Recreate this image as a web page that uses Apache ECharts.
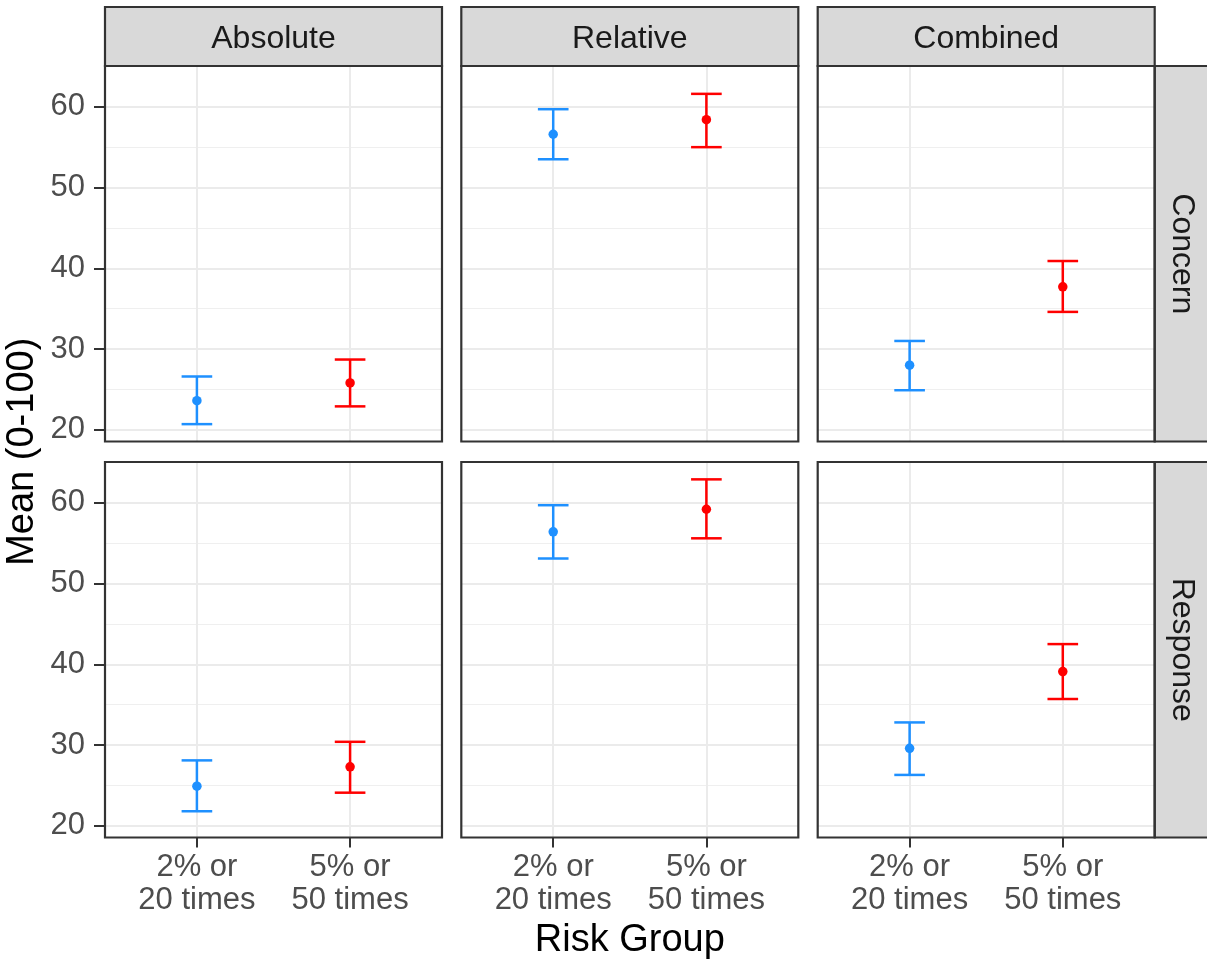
<!DOCTYPE html>
<html>
<head>
<meta charset="utf-8">
<script src="https://cdn.jsdelivr.net/npm/echarts@6/dist/echarts.min.js"></script>
<style>
html,body{margin:0;padding:0;background:#fff;}
#chart{width:1207px;height:966px;}
</style>
</head>
<body>
<div id="chart"></div>
<script>
// ---------- data ----------
const riskGroups = ['2% or\n20 times', '5% or\n50 times'];
const formats = ['Absolute', 'Relative', 'Combined'];
const measures = ['Concern', 'Response'];
const groupColors = ['#1E90FF', '#FF0000'];
const yTicks = [20, 30, 40, 50, 60];
const yMinorTicks = [25, 35, 45, 55];
const xTicks = [1, 2];

// per format: [low-risk group, high-risk group]
const concernMean  = [[23.6, 25.8], [56.6, 58.4], [28.0, 37.7]];
const concernLower = [[20.7, 22.9], [53.5, 55.0], [24.9, 34.6]];
const concernUpper = [[26.6, 28.7], [59.7, 61.6], [31.0, 40.9]];

const responseMean  = [[24.9, 27.3], [56.4, 59.2], [29.6, 39.1]];
const responseLower = [[21.8, 24.1], [53.1, 55.6], [26.3, 35.7]];
const responseUpper = [[28.1, 30.4], [59.7, 62.9], [32.8, 42.5]];

const meanData  = [concernMean, responseMean];
const lowerData = [concernLower, responseLower];
const upperData = [concernUpper, responseUpper];

const yMin = 18.55, yMax = 65.05;
const xMin = 0.4, xMax = 2.6;
const capHalf = 0.1;

// ---------- layout ----------
const colLeft = [105, 461.3, 817.7];
const panelW = 337;
const rowTop = [66, 462];
const panelH = 375.5;
const FONT = "'Liberation Sans', Arial, sans-serif";

const grids = [], xAxes = [], yAxes = [], series = [], graphics = [];

measures.forEach((m, r) => {
  formats.forEach((f, c) => {
    const gi = grids.length;
    grids.push({
      left: colLeft[c], top: rowTop[r], width: panelW, height: panelH,
      show: true, backgroundColor: '#FFFFFF', borderWidth: 0
    });
    xAxes.push({
      gridIndex: gi, type: 'value', min: xMin, max: xMax,
      axisLine: {show: false},
      axisTick: {show: r === 1, customValues: xTicks, length: 10, lineStyle: {color: '#333333', width: 2}},
      axisLabel: {
        show: r === 1, customValues: xTicks, margin: 13,
        formatter: v => riskGroups[Math.round(v) - 1],
        fontSize: 31, lineHeight: 33, color: '#4D4D4D', fontFamily: FONT
      },
      splitLine: {show: true, lineStyle: {color: '#EBEBEB', width: 2}}
    });
    const yMajorIdx = yAxes.length;
    yAxes.push({
      gridIndex: gi, type: 'value', min: yMin, max: yMax, position: 'left',
      axisLine: {show: false},
      axisTick: {show: c === 0, customValues: yTicks, length: 11, lineStyle: {color: '#333333', width: 2}},
      axisLabel: {show: c === 0, customValues: yTicks, margin: 20, fontSize: 31, color: '#4D4D4D', fontFamily: FONT},
      splitLine: {show: true, lineStyle: {color: '#EBEBEB', width: 2}}
    });
    yAxes.push({
      gridIndex: gi, type: 'value', min: yMin, max: yMax, position: 'left',
      axisLine: {show: false},
      axisTick: {show: false, customValues: yMinorTicks},
      axisLabel: {show: false, customValues: yMinorTicks},
      splitLine: {show: true, lineStyle: {color: '#EFEFEF', width: 1.2}}
    });

    const errData = xTicks.map((x, g) => ({
      value: [x, lowerData[r][c][g], upperData[r][c][g]],
      itemStyle: {color: groupColors[g]}
    }));
    series.push({
      type: 'custom', xAxisIndex: gi, yAxisIndex: yMajorIdx, z: 5,
      data: errData,
      renderItem: (params, api) => {
        const x = api.value(0), lo = api.value(1), hi = api.value(2);
        const top = api.coord([x, hi]), bot = api.coord([x, lo]);
        const xl = api.coord([x - capHalf, hi])[0];
        const xr = api.coord([x + capHalf, hi])[0];
        const style = {stroke: api.visual('color'), lineWidth: 2.5};
        return {type: 'group', children: [
          {type: 'line', shape: {x1: top[0], y1: top[1], x2: bot[0], y2: bot[1]}, style},
          {type: 'line', shape: {x1: xl, y1: top[1], x2: xr, y2: top[1]}, style},
          {type: 'line', shape: {x1: xl, y1: bot[1], x2: xr, y2: bot[1]}, style}
        ]};
      }
    });
    series.push({
      type: 'scatter', xAxisIndex: gi, yAxisIndex: yMajorIdx, z: 6,
      symbol: 'circle', symbolSize: 9.5,
      data: xTicks.map((x, g) => ({value: [x, meanData[r][c][g]], itemStyle: {color: groupColors[g], opacity: 1}}))
    });

    // panel border
    graphics.push({
      type: 'rect', z: 100,
      shape: {x: colLeft[c], y: rowTop[r], width: panelW, height: panelH},
      style: {fill: 'none', stroke: '#333333', lineWidth: 2.2}
    });
  });
});

// column strips (top)
formats.forEach((f, c) => {
  graphics.push({
    type: 'rect', z: 90,
    shape: {x: colLeft[c], y: 7, width: panelW, height: rowTop[0] - 7},
    style: {fill: '#D9D9D9', stroke: '#333333', lineWidth: 2.2}
  });
  graphics.push({
    type: 'text', z: 101, x: colLeft[c] + panelW / 2, y: 39,
    style: {text: f, fontSize: 32, fontFamily: FONT, fill: '#1A1A1A', align: 'center', verticalAlign: 'middle'}
  });
});
// row strips (right)
measures.forEach((m, r) => {
  const sx = colLeft[2] + panelW;
  graphics.push({
    type: 'rect', z: 90,
    shape: {x: sx, y: rowTop[r], width: 60, height: panelH},
    style: {fill: '#D9D9D9', stroke: '#333333', lineWidth: 2.2}
  });
  graphics.push({
    type: 'text', z: 101, x: sx + 27, y: rowTop[r] + panelH / 2, rotation: -Math.PI / 2,
    style: {text: m, fontSize: 32, fontFamily: FONT, fill: '#1A1A1A', align: 'center', verticalAlign: 'middle'}
  });
});
// axis titles
graphics.push({
  type: 'text', z: 101, x: (colLeft[0] + colLeft[2] + panelW) / 2, y: 941,
  style: {text: 'Risk Group', fontSize: 38, fontFamily: FONT, fill: '#000000', align: 'center', verticalAlign: 'middle'}
});
graphics.push({
  type: 'text', z: 101, x: 23, y: (rowTop[0] + rowTop[1] + panelH) / 2, rotation: Math.PI / 2,
  style: {text: 'Mean (0-100)', fontSize: 38, fontFamily: FONT, fill: '#000000', align: 'center', verticalAlign: 'middle'}
});

const chart = echarts.init(document.getElementById('chart'), null, {renderer: 'canvas'});
chart.setOption({
  animation: false,
  backgroundColor: '#FFFFFF',
  grid: grids,
  xAxis: xAxes,
  yAxis: yAxes,
  series: series,
  graphic: graphics
});
</script>
</body>
</html>
